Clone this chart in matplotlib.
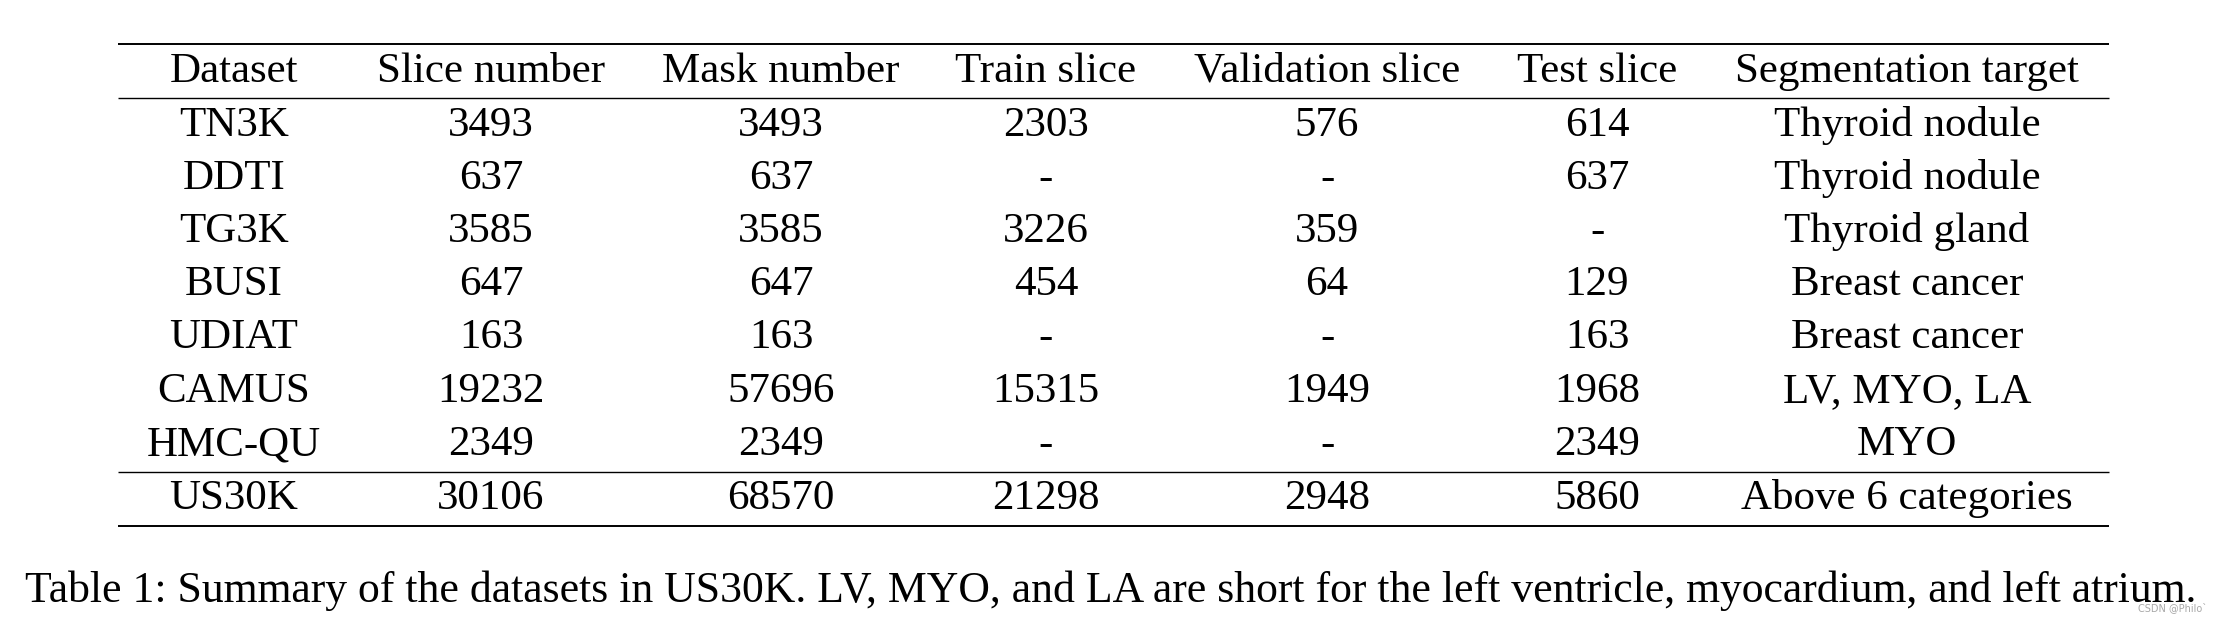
import matplotlib
matplotlib.use('Agg')
import matplotlib.pyplot as plt

# table contents
columns = ['Dataset', 'Slice number', 'Mask number', 'Train slice',
           'Validation slice', 'Test slice', 'Segmentation target']
datasets = ['TN3K', 'DDTI', 'TG3K', 'BUSI', 'UDIAT', 'CAMUS', 'HMC-QU']
slice_number = ['3493', '637', '3585', '647', '163', '19232', '2349']
mask_number = ['3493', '637', '3585', '647', '163', '57696', '2349']
train_slice = ['2303', '-', '3226', '454', '-', '15315', '-']
val_slice = ['576', '-', '359', '64', '-', '1949', '-']
test_slice = ['614', '637', '-', '129', '163', '1968', '2349']
seg_target = ['Thyroid nodule', 'Thyroid nodule', 'Thyroid gland', 'Breast cancer',
              'Breast cancer', 'LV, MYO, LA', 'MYO']
total_row = ['US30K', '30106', '68570', '21298', '2948', '5860', 'Above 6 categories']
caption = ('Table 1: Summary of the datasets in US30K. LV, MYO, and LA are short for '
           'the left ventricle, myocardium, and left atrium.')

# layout (pixels, baselines)
W, H = 2226, 622
col_x = [234, 491, 781, 1046, 1327, 1597, 1907]
header_y = 82
row_y = [136, 189, 242, 295, 348, 402, 455]
total_y = 509
rules = [(43.5, 1.4), (98, 1.0), (471.5, 1.0), (525.5, 1.4)]
x0, x1 = 118, 2109
fs = 31

plt.rcParams['font.family'] = ['Liberation Serif', 'DejaVu Serif']

fig = plt.figure(figsize=(W / 100, H / 100), dpi=100)
ax = fig.add_axes([0, 0, 1, 1])
ax.set_xlim(0, W)
ax.set_ylim(H, 0)
ax.axis('off')

for y, lw in rules:
    ax.plot([x0, x1], [y, y], color='black', lw=lw, solid_capstyle='butt')

for x, c in zip(col_x, columns):
    ax.text(x, header_y, c, ha='center', va='baseline', fontsize=fs)

body = list(zip(datasets, slice_number, mask_number, train_slice,
                val_slice, test_slice, seg_target))
for y, row in zip(row_y, body):
    for x, v in zip(col_x, row):
        ax.text(x, y, v, ha='center', va='baseline', fontsize=fs)

for x, v in zip(col_x, total_row):
    ax.text(x, total_y, v, ha='center', va='baseline', fontsize=fs)

ax.text(1111, 602, caption, ha='center', va='baseline', fontsize=31.5)
# watermark sits over the end of the caption, as in the source image
ax.text(2138, 611, 'CSDN @Philo`', ha='left', va='baseline', fontsize=7,
        color='#a8a8a8', family='DejaVu Sans')

fig.savefig('out.png', dpi=100)
